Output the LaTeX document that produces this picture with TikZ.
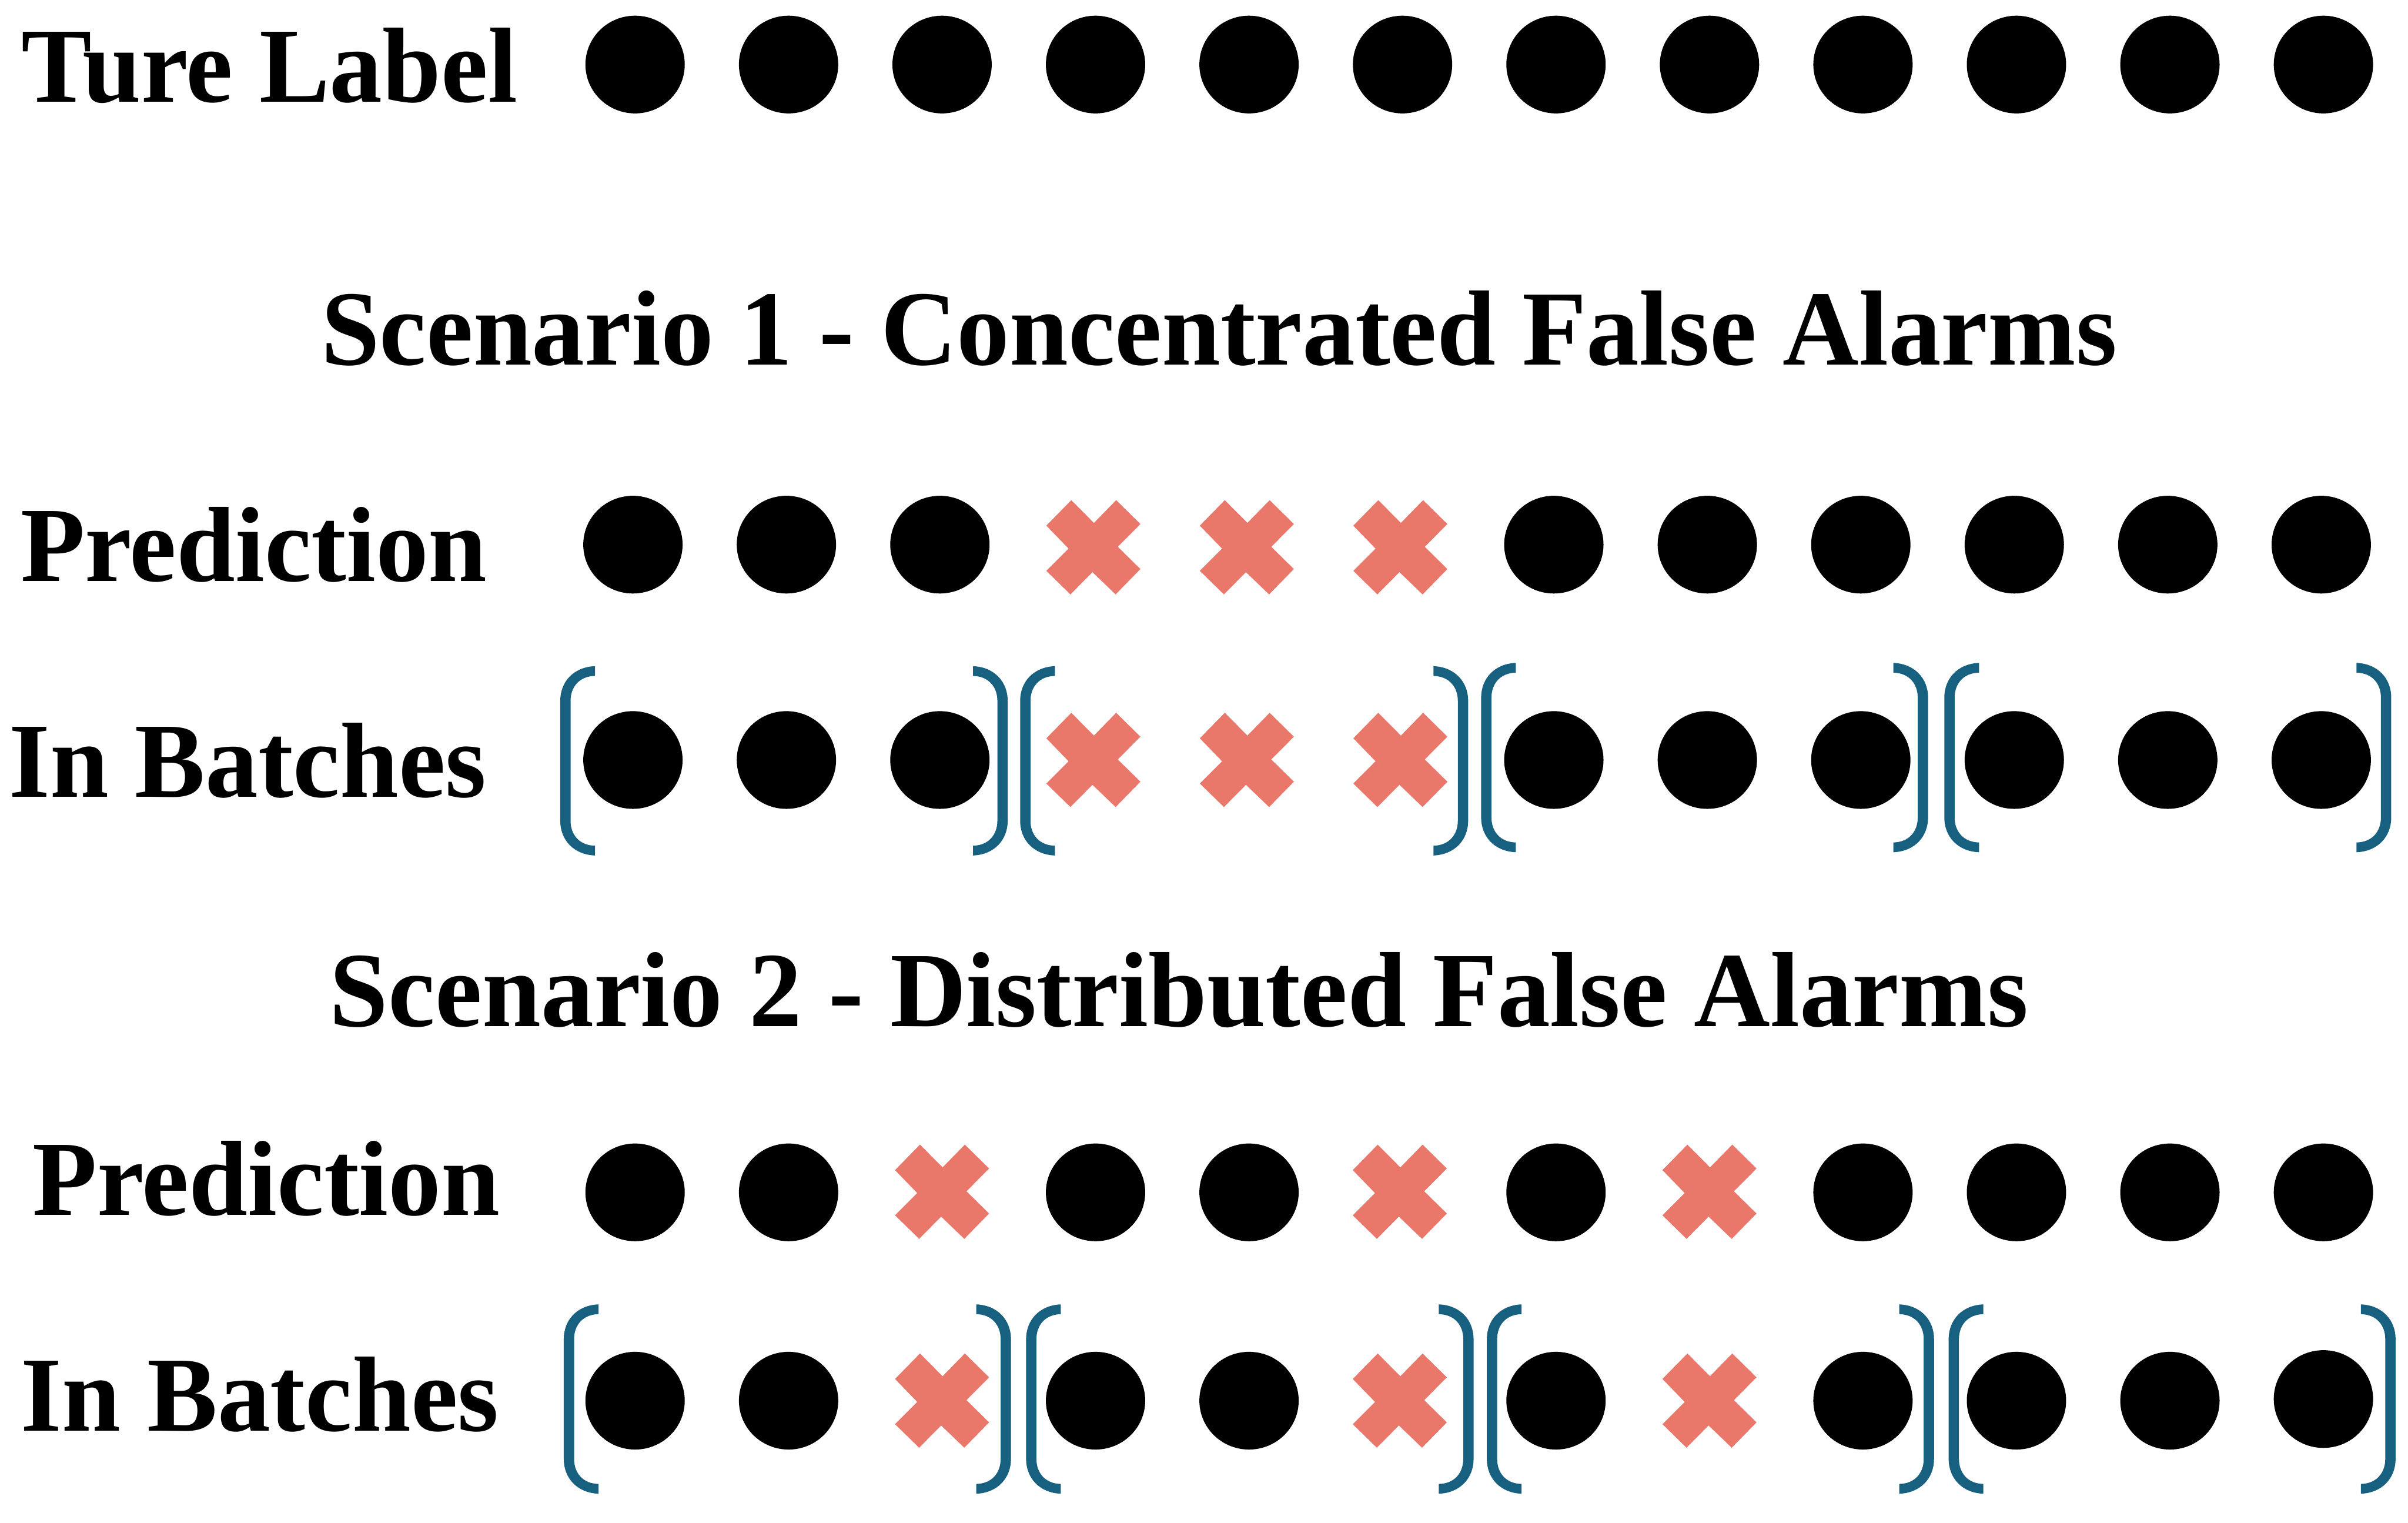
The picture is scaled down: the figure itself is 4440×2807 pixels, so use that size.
\documentclass[tikz,border=0pt]{standalone}
\usepackage{fontspec}
\usepackage{graphicx}
\usetikzlibrary{shapes.geometric}
\setmainfont{Liberation Serif}[Ligatures=NoCommon]
\definecolor{brk}{HTML}{17607F}
\definecolor{crs}{HTML}{E9776A}
\newlength{\pxu}\setlength{\pxu}{0.01cm}
\newcommand{\fitlabel}[2]{\resizebox{#1\pxu}{\height}{#2}}
\tikzset{
  x=0.01cm,y=-0.01cm,
  dot/.style={ellipse,fill=black,draw=none,inner sep=0pt,minimum width=1.83cm,minimum height=1.80cm},
  lab/.style={anchor=base west,inner sep=0pt,outer sep=0pt,font=\bfseries\fontsize{56pt}{60pt}\selectfont},
  brkt/.pic={
    \fill[brk] (64,-174.5) .. controls (25,-173) and (0,-146) .. (0,-110.5)
      -- (0,110.5) .. controls (0,146) and (25,173) .. (64,174.5)
      -- (64,156.5) .. controls (35,156) and (19,136) .. (19,110.5)
      -- (19,-110.5) .. controls (19,-136) and (35,-156) .. (64,-156.5) -- cycle;
  },
  crossmark/.pic={
    \fill[crs] (-40.7,-87) -- (1,-45) -- (42,-87) -- (86.7,-43) -- (45,-1) -- (86.7,40)
      -- (41,86.7) -- (-1.7,45.7) -- (-42.3,86.7) -- (-86.7,43.3) -- (-45.7,2.3) -- (-86.7,-40) -- cycle;
  }
}
\begin{document}
\begin{tikzpicture}
\useasboundingbox (0,0) rectangle (4440,2807);
% labels
\node[lab] (t1) at (40,188) {\fitlabel{914}{Ture Label}};
\node[lab] (t2) at (592,673) {\fitlabel{3311}{Scenario 1 - Concentrated False Alarms}};
\node[lab] (t3) at (38,1071) {\fitlabel{860}{Prediction}};
\node[lab] (t4) at (17,1469) {\fitlabel{880}{In Batches}};
\node[lab] (t5) at (608,1892) {\fitlabel{3132}{Scenario 2 - Distributed False Alarms}};
\node[lab] (t6) at (60,2240) {\fitlabel{862}{Prediction}};
\node[lab] (t7) at (39,2637.5) {\fitlabel{881}{In Batches}};
% row 1
\foreach \i in {0,...,11} \node[dot] (a\i) at (1171+283*\i,119) {};
% scenario 1
\foreach \i in {0,1,2,6,7,8,9,10,11} \node[dot] (b\i) at (1167+283*\i,1004) {};
\foreach \i in {3,4,5} \pic (bx\i) at (1167+283*\i,1009) {crossmark};
\foreach \i in {0,1,2,6,7,8,9,10,11} \node[dot] (c\i) at (1167+283*\i,1401) {};
\foreach \i in {3,4,5} \pic (cx\i) at (1167+283*\i,1401) {crossmark};
\foreach \k/\l/\r/\m in {0/1033/1858/1402.5,1/1881/2707/1402.5,2/2731/3555/1396.5,3/3585/4409/1396.5} {
  \pic (cl\k) at (\l,\m) {brkt};
  \pic[xscale=-1] (cr\k) at (\r,\m) {brkt};
}
% scenario 2
\foreach \i in {0,1,3,4,6,8,9,10,11} \node[dot] (d\i) at (1171+283*\i,2198) {};
\foreach \i/\c in {2/1737,5/2581,7/3152} \pic (dx\i) at (\c,2197) {crossmark};
\foreach \i in {0,1,3,4,6,8,9,10} \node[dot] (e\i) at (1171+283*\i,2582) {};
\node[dot] (e11) at (4284,2579) {};
\foreach \i/\c in {2/1737,5/2581,7/3152} \pic (ex\i) at (\c,2582) {crossmark};
\foreach \k/\l/\r in {0/1039.5/1864,1/1892/2717,2/2741.5/3566,3/3593/4417} {
  \pic (el\k) at (\l,2579) {brkt};
  \pic[xscale=-1] (er\k) at (\r,2579) {brkt};
}
\end{tikzpicture}
\end{document}
